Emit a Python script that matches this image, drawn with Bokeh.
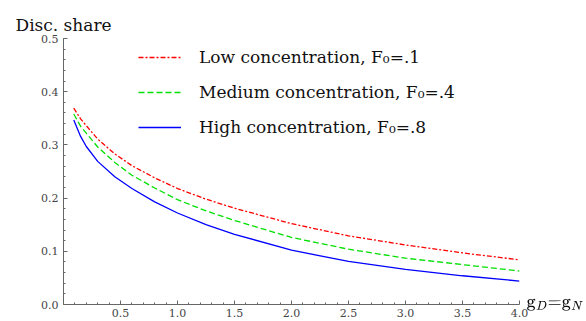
from bokeh.plotting import figure
from bokeh.models import (Range1d, FixedTicker, NumeralTickFormatter, Legend,
                          LegendItem, LinearAxis)
from bokeh.embed import file_html
from bokeh.resources import INLINE

# ---- data ----
g = [0.09, 0.15, 0.2, 0.3, 0.45, 0.6, 0.8, 1.0, 1.25, 1.5, 2.0, 2.5, 3.0, 3.5, 4.0]
low_F01 = [0.369, 0.349, 0.336, 0.311, 0.283, 0.261, 0.238, 0.218, 0.198, 0.181, 0.152, 0.129, 0.112, 0.097, 0.084]
medium_F04 = [0.358, 0.335, 0.322, 0.296, 0.267, 0.243, 0.219, 0.197, 0.176, 0.158, 0.126, 0.104, 0.087, 0.075, 0.063]
high_F08 = [0.347, 0.316, 0.297, 0.269, 0.240, 0.218, 0.193, 0.172, 0.150, 0.132, 0.102, 0.081, 0.066, 0.054, 0.044]

series_labels = ["Low concentration, F\u2080=.1",
                 "Medium concentration, F\u2080=.4",
                 "High concentration, F\u2080=.8"]

x_major_ticks = [0.5, 1.0, 1.5, 2.0, 2.5, 3.0, 3.5, 4.0]
x_minor_ticks = [round(0.1 * i, 1) for i in range(1, 40)]
y_major_ticks = [0.0, 0.1, 0.2, 0.3, 0.4, 0.5]
y_minor_ticks = [round(0.02 * i, 2) for i in range(0, 26)]

y_title = "Disc. share"
x_title = r"$$\mathrm{g}_D{=}\mathrm{g}_N$$"

SERIF = "DejaVu Serif"
AXIS_COLOR = "#666666"
TEXT_COLOR = "#444444"

p = figure(width=586, height=321,
           x_range=Range1d(0, 4.0), y_range=Range1d(0, 0.5),
           output_backend="svg", toolbar_location=None,
           min_border_left=63, min_border_right=67,
           min_border_top=38, min_border_bottom=17,
           title=y_title)
p.outline_line_color = None
p.grid.visible = False
p.background_fill_color = "white"

p.title.align = "left"
p.title.offset = -48
p.title.standoff = 8
p.title.text_font = SERIF
p.title.text_font_size = "17px"
p.title.text_font_style = "normal"
p.title.text_color = "#111111"

for ax in (p.xaxis[0], p.yaxis[0]):
    ax.axis_line_color = AXIS_COLOR
    ax.major_tick_line_color = AXIS_COLOR
    ax.minor_tick_line_color = AXIS_COLOR
    ax.major_tick_in = 4
    ax.major_tick_out = 0
    ax.minor_tick_in = 2
    ax.minor_tick_out = 0
    ax.major_label_text_font = SERIF
    ax.major_label_text_font_size = "11px"
    ax.major_label_text_color = TEXT_COLOR
    ax.formatter = NumeralTickFormatter(format="0.0")

p.xaxis[0].ticker = FixedTicker(ticks=x_major_ticks, minor_ticks=x_minor_ticks)
p.yaxis[0].ticker = FixedTicker(ticks=y_major_ticks, minor_ticks=y_minor_ticks)
p.xaxis[0].major_label_standoff = 4
p.yaxis[0].major_label_standoff = 5

# right-hand axis used only to carry the x-axis title at the end of the x axis
title_axis = LinearAxis(ticker=FixedTicker(ticks=[0.0], minor_ticks=[]),
                        major_label_overrides={0.0: x_title},
                        axis_line_color=None, major_tick_line_color=None,
                        minor_tick_line_color=None,
                        major_tick_in=0, major_tick_out=0,
                        major_label_standoff=7,
                        major_label_text_font=SERIF,
                        major_label_text_font_size="14px",
                        major_label_text_color="#111111")
p.add_layout(title_axis, "right")

r_low = p.line(g, low_F01, line_color="#ff0000", line_width=1.3, line_dash="5 2 2 2")
r_med = p.line(g, medium_F04, line_color="#00e000", line_width=1.3, line_dash="6 3")
r_high = p.line(g, high_F08, line_color="#0000ff", line_width=1.3)

legend = Legend(items=[LegendItem(label=series_labels[0], renderers=[r_low]),
                       LegendItem(label=series_labels[1], renderers=[r_med]),
                       LegendItem(label=series_labels[2], renderers=[r_high])],
                location=(75, 167), padding=0, margin=0,
                border_line_color=None, background_fill_alpha=0,
                glyph_width=43, glyph_height=20, label_height=20,
                spacing=15, label_standoff=18,
                label_text_font=SERIF, label_text_font_size="17px",
                label_text_color="#111111")
p.add_layout(legend)

open("out.html", "w").write(file_html(p, INLINE))
